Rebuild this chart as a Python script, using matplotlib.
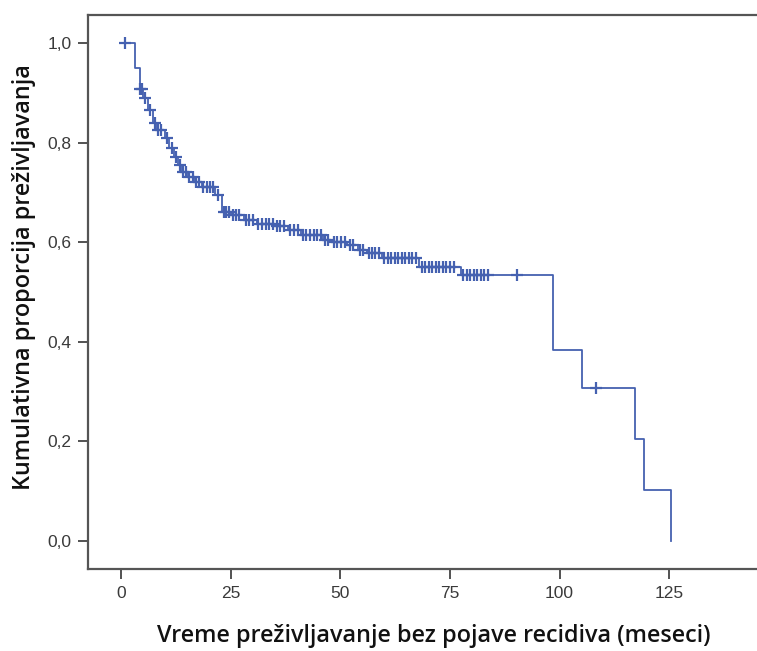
import numpy as np
import matplotlib
matplotlib.use("Agg")
import matplotlib.pyplot as plt

# Kaplan-Meier step data (event times in months, survival after event)
event_times = [0, 3.2, 4.3, 5.0, 6.1, 7.3, 8.0, 10.0, 11.0, 12.0, 13.0, 14.0, 15.0,
               17.0, 18.5, 21.5, 23.0, 25.0, 28.0, 31.0, 35.0, 38.0, 41.0, 46.0,
               48.0, 51.5, 54.0, 56.0, 59.5, 68.0, 77.5, 98.4, 105.2, 117.3, 119.3, 125.5]
survival = [1.0, 0.95, 0.908, 0.89, 0.865, 0.84, 0.825, 0.81, 0.79, 0.77, 0.755, 0.74, 0.73,
            0.72, 0.71, 0.695, 0.66, 0.655, 0.645, 0.637, 0.632, 0.625, 0.615, 0.605,
            0.60, 0.595, 0.585, 0.578, 0.568, 0.55, 0.535, 0.383, 0.307, 0.205, 0.102, 0.0]

censor_times = [1, 4.4, 4.8, 5.4, 6.6, 7.8, 8.4, 9.2, 10.5, 11.6, 12.6, 13.4, 14.2, 14.8,
                15.6, 16.4, 17.2, 17.8, 18.8, 19.6, 20.3, 21.0, 22.2, 23.4, 24.0, 24.7,
                25.5, 26.3, 27.0, 28.5, 29.2, 30.0, 31.3, 32.1, 33.0, 33.8, 34.6, 35.5,
                36.3, 37.2, 38.6, 39.5, 40.3, 41.5, 42.3, 43.1, 44.0, 44.8, 45.5, 46.5,
                47.3, 48.5, 49.3, 50.2, 51.0, 52.2, 53.0, 54.6, 55.3, 56.5, 57.2, 58.0,
                58.8, 60.0, 60.8, 61.6, 62.4, 63.2, 64.0, 64.8, 65.6, 66.4, 67.2, 68.6,
                69.4, 70.2, 71.0, 71.8, 72.6, 73.4, 74.2, 75.0, 76.0, 78.0, 78.8, 79.6,
                80.4, 81.2, 82.0, 82.8, 83.6, 90.2, 108.4]

x_ticks = [0, 25, 50, 75, 100, 125]
y_ticks = [0.0, 0.2, 0.4, 0.6, 0.8, 1.0]
y_tick_labels = ["0,0", "0,2", "0,4", "0,6", "0,8", "1,0"]

xlabel = "Vreme preživljavanje bez pojave recidiva (meseci)"
ylabel = "Kumulativna proporcija preživljavanja"

color = "#4561b0"

fig = plt.figure(figsize=(7.57, 6.51), dpi=100)
ax = fig.add_axes([88/757, 1 - 569/651, 1 - 88/757, (569 - 15)/651])

# step curve
ax.step(event_times, survival, where="post", color=color, lw=1.3)

# censor marks on curve
et = np.array(event_times)
sv = np.array(survival)
cs = [sv[np.searchsorted(et, c, side="right") - 1] for c in censor_times]
ax.plot(censor_times, cs, linestyle="none", marker="+", markersize=8.5,
        markeredgewidth=1.6, color=color)

ax.set_xlim(-7.5, 145)
ax.set_ylim(-0.056, 1.056)
ax.set_xticks(x_ticks)
ax.set_yticks(y_ticks)
ax.set_yticklabels(y_tick_labels)

for lab in ax.get_xticklabels() + ax.get_yticklabels():
    lab.set_fontfamily(["Liberation Sans Narrow", "Liberation Sans", "DejaVu Sans"])
    lab.set_fontsize(12.5)
    lab.set_color("#3a3a3a")

ax.tick_params(direction="out", length=7, width=1.3, color="#444444", pad=5)
for side in ["left", "bottom", "top"]:
    ax.spines[side].set_linewidth(1.6)
    ax.spines[side].set_color("#555555")
ax.spines["right"].set_visible(False)

fig.text(434/757, 1 - 636/651, xlabel, ha="center", va="center",
         fontsize=16.8, fontweight="semibold", family=["Open Sans", "DejaVu Sans"], color="#111111")
fig.text(24/757, 1 - 277/651, ylabel, ha="center", va="center", rotation=90,
         fontsize=16.8, fontweight="semibold", family=["Open Sans", "DejaVu Sans"], color="#111111")

fig.savefig("out.png", dpi=100)
